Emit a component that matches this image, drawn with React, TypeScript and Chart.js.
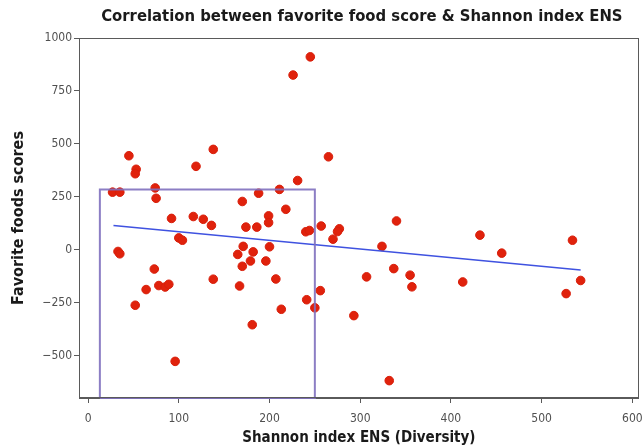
import React, { useEffect, useRef } from "react";
import { Chart, registerables } from "chart.js";

Chart.register(...registerables);

const titleText = "Correlation between favorite food score & Shannon index ENS";
const xTitle = "Shannon index ENS (Diversity)";
const yTitle = "Favorite foods scores";

const xTicks = [0, 100, 200, 300, 400, 500, 600];
const yTicks = [-500, -250, 0, 250, 500, 750, 1000];

// Shannon index ENS (x) and favorite food score (y) for each subject
const diversity = [
  245, 226, 265, 45, 53, 52, 119, 138, 27, 35,
  74, 75, 92, 116, 127, 136, 170, 188, 211, 174,
  186, 199, 199, 100, 104, 33, 35, 73, 64, 78,
  85, 89, 52, 96, 138, 167, 171, 165, 182, 179,
  170, 196, 200, 181, 207, 213, 231, 218, 257, 240,
  244, 277, 275, 270, 340, 241, 250, 256, 293, 307,
  324, 337, 355, 357, 332, 432, 456, 413, 534, 543,
  527,
];
const foodScores = [
  911, 825, 439, 444, 380, 359, 394, 474, 272, 272,
  292, 243, 148, 157, 144, 115, 228, 267, 285, 107,
  107, 160, 128, 56, 45, -8, -19, -91, -188, -169,
  -176, -163, -262, -527, -139, -171, 16, -22, -10, -53,
  -78, -53, 14, -354, -138, -281, 327, 191, 112, 85,
  91, 99, 86, 50, 136, -236, -274, -193, -311, -128,
  16, -89, -120, -175, -618, 69, -16, -152, 45, -145,
  -207,
];

// regression line end points
const trendX = [28, 543];
const trendY = [115, -96];

// selection box corners
const boxX = [13, 13, 250, 250, 13];
const boxY = [-700, 284, 284, -700, -700];

const X_MIN = -10;
const X_MAX = 607;
const Y_MIN = -700;
const Y_MAX = 1000;

const FONT = "'DejaVu Sans Condensed', 'DejaVu Sans', sans-serif";

export default function App() {
  const ref = useRef<HTMLCanvasElement | null>(null);

  useEffect(() => {
    document.body.style.margin = "0";
    const canvas = ref.current;
    if (!canvas) return;

    const framePlugin = {
      id: "frameAndTitle",
      afterDraw(chart: any) {
        const { ctx, chartArea } = chart;
        ctx.save();
        ctx.strokeStyle = "#5a5a5a";
        ctx.lineWidth = 1;
        ctx.strokeRect(
          Math.round(chartArea.left) + 0.5,
          Math.round(chartArea.top) + 0.5,
          Math.round(chartArea.right - chartArea.left) - 1,
          Math.round(chartArea.bottom - chartArea.top) - 1
        );
        ctx.fillStyle = "#1a1a1a";
        ctx.font = "bold 16.5px " + FONT;
        ctx.textAlign = "center";
        ctx.textBaseline = "middle";
        ctx.fillText(titleText, (chartArea.left + chartArea.right) / 2 + 3, 17);
        ctx.restore();
      },
    };

    const scatterData = diversity.map((x, i) => ({ x, y: foodScores[i] }));
    const trendData = trendX.map((x, i) => ({ x, y: trendY[i] }));
    const boxData = boxX.map((x, i) => ({ x, y: boxY[i] }));

    const chart = new Chart(canvas, {
      type: "scatter",
      data: {
        datasets: [
          {
            label: "Subjects",
            data: scatterData,
            backgroundColor: "#e0220c",
            borderColor: "#d81e0a",
            borderWidth: 1,
            pointRadius: 4.3,
            order: 3,
          },
          {
            type: "line",
            label: "Trend",
            data: trendData,
            borderColor: "#3f52e0",
            borderWidth: 1.5,
            pointRadius: 0,
            fill: false,
            order: 2,
          },
          {
            type: "line",
            label: "Box",
            data: boxData,
            borderColor: "rgba(128,112,190,0.9)",
            borderWidth: 2,
            pointRadius: 0,
            fill: false,
            tension: 0,
            clip: false,
            order: 1,
          },
        ],
      } as any,
      options: {
        animation: false,
        responsive: false,
        devicePixelRatio: 1,
        layout: { padding: { top: 38, right: 1, left: 0, bottom: 0 } },
        plugins: {
          legend: { display: false },
          title: { display: false },
          tooltip: { enabled: false },
        },
        scales: {
          x: {
            type: "linear",
            min: X_MIN,
            max: X_MAX,
            afterFit: (s: any) => {
              s.height = 50;
              s.paddingRight = 0;
              s.paddingLeft = 0;
            },
            afterBuildTicks: (s: any) => {
              s.ticks = xTicks.map((v) => ({ value: v }));
            },
            grid: {
              display: true,
              drawOnChartArea: false,
              drawTicks: true,
              tickLength: 5,
              color: "#5a5a5a",
            },
            border: { display: true, color: "#5a5a5a" },
            ticks: {
              padding: 9,
              color: "#505050",
              font: { family: FONT, size: 12 },
              maxRotation: 0,
            },
            title: {
              display: true,
              text: xTitle,
              color: "#1a1a1a",
              font: { family: FONT, size: 15, weight: "bold" },
              padding: { top: 0, bottom: 1 },
            },
          },
          y: {
            type: "linear",
            min: Y_MIN,
            max: Y_MAX,
            afterFit: (s: any) => {
              s.width = 79;
              s.paddingTop = 0;
              s.paddingBottom = 0;
            },
            afterBuildTicks: (s: any) => {
              s.ticks = yTicks.map((v) => ({ value: v }));
            },
            grid: {
              display: true,
              drawOnChartArea: false,
              drawTicks: true,
              tickLength: 5,
              color: "#5a5a5a",
            },
            border: { display: true, color: "#5a5a5a" },
            ticks: {
              padding: 2,
              color: "#505050",
              font: { family: FONT, size: 12 },
              callback: (v: any) => String(v).replace("-", "\u2212"),
            },
            title: {
              display: true,
              text: yTitle,
              color: "#1a1a1a",
              font: { family: FONT, size: 16, weight: "bold" },
              padding: { top: 9, bottom: 0 },
            },
          },
        },
      } as any,
      plugins: [framePlugin],
    });

    return () => {
      chart.destroy();
    };
  }, []);

  return (
    <div style={{ position: "absolute", left: 0, top: 0, width: 644, height: 448, background: "#fff" }}>
      <canvas ref={ref} width={644} height={448} style={{ width: 644, height: 448 }} />
    </div>
  );
}
